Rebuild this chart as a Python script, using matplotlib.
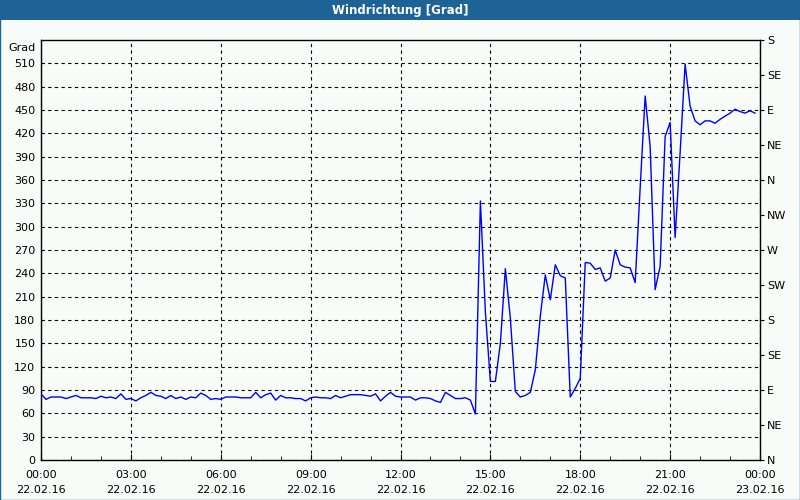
import numpy as np
import pandas as pd
import matplotlib
matplotlib.use("Agg")
import matplotlib.pyplot as plt
import matplotlib.dates as mdates
from matplotlib.patches import Rectangle

title = "Windrichtung [Grad]"
y_unit = "Grad"
start = "2016-02-22 00:00"
end = "2016-02-23 00:00"
interval = "10min"

wind_dir = [
    # 00:00 - 05:50
    85, 78, 81, 81, 81, 79, 81, 83, 80, 80, 80, 79, 82, 80, 81, 79, 85, 78,
    79, 76, 80, 83, 87, 83, 82, 79, 83, 79, 81, 78, 81, 80, 86, 83, 78, 79,
    # 06:00 - 11:50
    78, 81, 81, 81, 80, 80, 80, 87, 80, 84, 86, 77, 83, 80, 80, 79, 79, 76,
    80, 81, 80, 80, 79, 83, 80, 82, 84, 84, 84, 83, 82, 85, 76, 82, 87, 82,
    # 12:00 - 14:30
    81, 81, 81, 77, 80, 80, 79, 76, 74, 87, 83, 79, 79, 80, 77, 59,
    # 14:40 - 23:50
    333, 190, 101, 101, 150, 246, 182, 88,
    81, 83, 87, 116, 185, 238,
    206, 251, 237, 234, 81, 92,
    105, 254, 253, 245, 247, 230,
    234, 270, 251, 248, 247, 228,
    350, 468, 403, 219, 249, 416,
    434, 286, 395, 509, 455, 436,
    431, 436, 436, 433, 438, 442,
    446, 451, 448, 446, 449, 446,
]
times = pd.date_range(start, periods=len(wind_dir), freq=interval)

left_ticks = list(range(0, 511, 30))
compass_labels = ["N", "NE", "E", "SE", "S", "SW", "W", "NW",
                  "N", "NE", "E", "SE", "S"]
compass_ticks = list(range(0, 541, 45))

bg = "#f8fcf8"
band = "#1d6395"

fig = plt.figure(figsize=(8, 5), dpi=100, facecolor=bg)
# title band
fig.patches.append(Rectangle((0, 0.96), 1, 0.04, transform=fig.transFigure,
                             facecolor=band, edgecolor="none", zorder=0))
# outer frame
fig.patches.append(Rectangle((0.0006, 0.001), 0.9988, 0.998, transform=fig.transFigure,
                             facecolor="none", edgecolor=band, lw=1.0, zorder=5))
fig.text(0.5, 0.979, title, color="white", ha="center", va="center",
         fontsize=8.5, fontweight="bold")

ax = fig.add_axes([41 / 800, 40 / 500, 719 / 800, 420 / 500])
ax.set_facecolor(bg)
ax.plot(times, wind_dir, color="#0000ff", lw=1.0, zorder=3)

ax.set_xlim(pd.Timestamp(start), pd.Timestamp(end))
ax.set_ylim(0, 540)
ax.xaxis.set_major_locator(mdates.HourLocator(byhour=range(0, 24, 3)))
ax.xaxis.set_minor_locator(mdates.HourLocator())
ax.xaxis.set_major_formatter(mdates.DateFormatter("%H:%M\n%d.%m.%y"))
ax.set_yticks(left_ticks)

ax.grid(True, which="major", color="black", linestyle=(0, (3, 3)), lw=0.8)
for s in ax.spines.values():
    s.set_color("black")
    s.set_linewidth(1.0)

ax.tick_params(axis="x", which="major", direction="in", length=4, pad=7,
               labelsize=8, color="black")
ax.tick_params(axis="x", which="minor", direction="in", length=3, color="black")
ax.tick_params(axis="y", which="major", length=0, pad=4, labelsize=8)
for lbl in ax.get_xticklabels():
    lbl.set_linespacing(1.7)

ax2 = ax.twinx()
ax2.set_ylim(0, 540)
ax2.set_yticks(compass_ticks)
ax2.set_yticklabels(compass_labels)
ax2.tick_params(axis="y", direction="out", length=3, pad=2, labelsize=8)
for s in ax2.spines.values():
    s.set_visible(False)

ax.annotate(y_unit, xy=(0, 1), xycoords="axes fraction", xytext=(-4, -6),
            textcoords="offset points", ha="right", va="center", fontsize=8)

fig.savefig("out.png", dpi=100, facecolor=bg)
